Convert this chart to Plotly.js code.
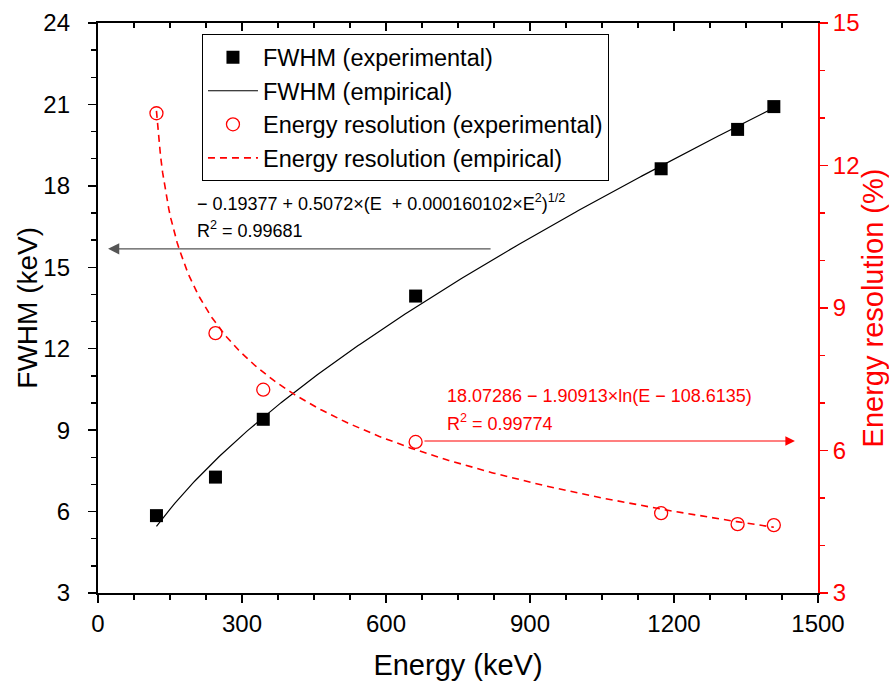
<!DOCTYPE html>
<html>
<head>
<meta charset="utf-8">
<script src="https://cdn.plot.ly/plotly-3.0.1.min.js"></script>
<style>
  html, body { margin: 0; padding: 0; background: #fff; }
  #chart { width: 889px; height: 681px; }
</style>
</head>
<body>
<div id="chart"></div>
<script>
// Gamma-ray peak energies (keV)
const energy = [121.8, 244.7, 344.3, 661.7, 1173.2, 1332.5, 1408.0];
// Measured FWHM (keV)
const fwhm = [5.85, 7.27, 9.40, 13.94, 18.63, 20.08, 20.92];
// Measured energy resolution (%)
const resolution = [13.10, 8.47, 7.28, 6.18, 4.68, 4.45, 4.43];

// Fit coefficients as printed on the chart
// FWHM = a + b*(E + c*E^2)^(1/2)
const fwhmFit = [-0.19377, 0.5072, 0.000160102];
// R = p - q*ln(E - s)
const resFit = [18.07286, 1.90913, 108.6135];

const xTicks = [0, 300, 600, 900, 1200, 1500];
const fwhmTicks = [3, 6, 9, 12, 15, 18, 21, 24];

// Evaluation grid for the fitted curves over the measured energy span
const eMin = energy[0], eMax = energy[energy.length - 1];
const fitE = [];
for (let i = 0; i <= 300; i++) fitE.push(eMin + (eMax - eMin) * i / 300);
const fwhmCurve = fitE.map(e => fwhmFit[0] + fwhmFit[1] * Math.sqrt(e + fwhmFit[2] * e * e));
const resCurve = fitE.map(e => resFit[0] - resFit[1] * Math.log(e - resFit[2]));

const FONT = 'Arial, "Liberation Sans", sans-serif';
const RED = '#ff0000';
// transparent padding glyph keeps the left tick labels clear of the tick marks
const PAD = '<span style="color:rgba(0,0,0,0)">0</span>';

const traces = [
  {
    x: energy, y: fwhm, type: 'scatter', mode: 'markers',
    name: 'FWHM (experimental)',
    marker: { symbol: 'square', size: 13, color: '#000' },
    xaxis: 'x', yaxis: 'y'
  },
  {
    x: fitE, y: fwhmCurve, type: 'scatter', mode: 'lines',
    name: 'FWHM (empirical)',
    line: { color: '#000', width: 1.2 },
    xaxis: 'x', yaxis: 'y'
  },
  {
    x: energy, y: resolution, type: 'scatter', mode: 'markers',
    name: 'Energy resolution (experimental)',
    marker: { symbol: 'circle-open', size: 13, color: RED, line: { width: 1.3, color: RED } },
    xaxis: 'x', yaxis: 'y2'
  },
  {
    x: fitE, y: resCurve, type: 'scatter', mode: 'lines',
    name: 'Energy resolution (empirical)',
    line: { color: RED, width: 1.6, dash: '7px,5px' },
    xaxis: 'x', yaxis: 'y2'
  },
  // invisible trace that carries the top (mirrored) x axis with inward ticks
  {
    x: [0, 1500], y: [3, 3], type: 'scatter', mode: 'markers',
    marker: { opacity: 0 }, showlegend: false, hoverinfo: 'skip',
    xaxis: 'x2', yaxis: 'y'
  }
];

const layout = {
  width: 889, height: 681,
  margin: { l: 98, r: 71, t: 23, b: 88 },
  paper_bgcolor: '#fff', plot_bgcolor: '#fff',
  font: { family: FONT, color: '#000', size: 22 },
  showlegend: true,
  legend: {
    x: 0.1444, y: 0.98, xanchor: 'left', yanchor: 'top',
    bgcolor: '#fff', bordercolor: '#000', borderwidth: 1,
    font: { family: FONT, size: 23.5, color: '#000' },
    itemwidth: 50, tracegroupgap: 0
  },
  xaxis: {
    range: [0, 1500], tickvals: xTicks, ticktext: xTicks.map(String),
    ticks: 'outside', ticklen: 8, tickwidth: 1.5, tickcolor: '#000',
    minor: { dtick: 75, ticks: 'outside', ticklen: 5, tickwidth: 1.5, tickcolor: '#000' },
    showline: true, linecolor: '#000', linewidth: 1.8,
    showgrid: false, zeroline: false,
    tickfont: { family: FONT, size: 24, color: '#000' },
    title: { text: 'Energy (keV)', font: { family: FONT, size: 29, color: '#000' }, standoff: 22 }
  },
  xaxis2: {
    overlaying: 'x', side: 'top', range: [0, 1500], dtick: 300,
    ticks: 'inside', ticklen: 8, tickwidth: 1.5, tickcolor: '#000',
    minor: { dtick: 75, ticks: 'inside', ticklen: 5, tickwidth: 1.5, tickcolor: '#000' },
    showticklabels: false, showline: true, linecolor: '#000', linewidth: 1.8,
    showgrid: false, zeroline: false
  },
  yaxis: {
    range: [3, 24], tickvals: fwhmTicks, ticktext: fwhmTicks.map(v => v + PAD),
    ticks: 'outside', ticklen: 8, tickwidth: 1.5, tickcolor: '#000',
    minor: { dtick: 1, ticks: 'outside', ticklen: 5, tickwidth: 1.5, tickcolor: '#000' },
    showline: true, linecolor: '#000', linewidth: 1.8,
    showgrid: false, zeroline: false,
    tickfont: { family: FONT, size: 24, color: '#000' }
  },
  yaxis2: {
    overlaying: 'y', side: 'right', anchor: 'x',
    range: [3, 15], dtick: 3, tick0: 3,
    ticks: 'outside', ticklen: 8, tickwidth: 1.5, tickcolor: RED,
    minor: { dtick: 1, ticks: 'outside', ticklen: 5, tickwidth: 1.5, tickcolor: RED },
    showline: true, linecolor: RED, linewidth: 2,
    showgrid: false, zeroline: false,
    tickfont: { family: FONT, size: 24, color: RED },
    title: { text: 'Energy resolution (%)', font: { family: FONT, size: 29, color: RED }, standoff: 6 }
  },
  annotations: [
    // left axis title
    {
      xref: 'paper', yref: 'paper', x: -0.099, y: 0.5, xanchor: 'center', yanchor: 'middle',
      text: 'FWHM (keV)', textangle: -90, showarrow: false,
      font: { family: FONT, size: 28, color: '#000' }
    },
    // FWHM fit equation
    {
      xref: 'x', yref: 'y', x: 202, y: 17.37, xanchor: 'left', yanchor: 'middle',
      text: '\u2212 0.19377 + 0.5072\u00d7(E  + 0.000160102\u00d7E<sup>2</sup>)<sup>1/2</sup>',
      showarrow: false, font: { family: FONT, size: 18, color: '#000' }
    },
    {
      xref: 'x', yref: 'y', x: 202, y: 16.41, xanchor: 'left', yanchor: 'middle',
      text: 'R<sup>2</sup> = 0.99681',
      showarrow: false, font: { family: FONT, size: 18, color: '#000' }
    },
    // arrow pointing to the left axis
    {
      xref: 'x', yref: 'y', x: 21, y: 15.68,
      axref: 'x', ayref: 'y', ax: 821, ay: 15.68,
      text: '', showarrow: true, arrowhead: 2, arrowsize: 1.6, arrowwidth: 1.4,
      arrowcolor: '#555'
    },
    // energy resolution fit equation
    {
      xref: 'x', yref: 'y2', x: 723, y: 7.15, xanchor: 'left', yanchor: 'middle',
      text: '18.07286 \u2212 1.90913\u00d7ln(E \u2212 108.6135)',
      showarrow: false, font: { family: FONT, size: 18, color: RED }
    },
    {
      xref: 'x', yref: 'y2', x: 723, y: 6.6, xanchor: 'left', yanchor: 'middle',
      text: 'R<sup>2</sup> = 0.99774',
      showarrow: false, font: { family: FONT, size: 18, color: RED }
    },
    // arrow pointing to the right axis
    {
      xref: 'x', yref: 'y2', x: 1452, y: 6.2,
      axref: 'x', ayref: 'y2', ax: 677, ay: 6.2,
      text: '', showarrow: true, arrowhead: 2, arrowsize: 1.6, arrowwidth: 1.2,
      arrowcolor: RED
    }
  ]
};

Plotly.newPlot('chart', traces, layout, { displayModeBar: false, staticPlot: true });
</script>
</body>
</html>
